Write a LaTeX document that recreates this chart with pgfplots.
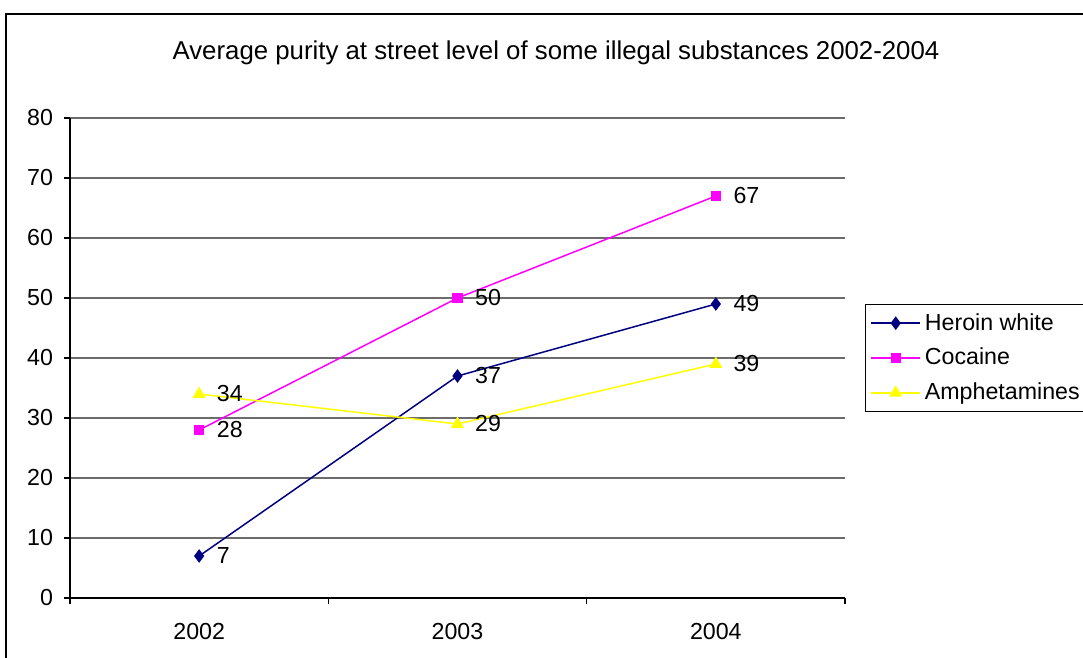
\documentclass[border=0pt]{standalone}
\usepackage{pgfplots}
\pgfplotsset{compat=1.18}
\usepackage{fontspec}
\setmainfont{Liberation Sans}
\definecolor{heroin}{RGB}{0,0,128}
\definecolor{cocaine}{RGB}{255,0,255}
\definecolor{amph}{RGB}{255,255,0}
\begin{document}
\begin{tikzpicture}[font=\fontsize{11.6}{13.9}\selectfont]
\clip (0,0) rectangle (541.5pt,329pt);
\fill[white] (0,0) rectangle (541.5pt,329pt);
\draw[line width=1.1pt] (3pt,-10pt) rectangle (560pt,322pt);
\node[font=\fontsize{12.9}{15.5}\selectfont] at (278pt,302.5pt) {Average purity at street level of some illegal substances 2002-2004};
\begin{axis}[
  at={(35pt,30pt)}, anchor=south west,
  scale only axis, width=387.5pt, height=240pt,
  /pgf/number format/assume math mode=true,
  xmin=-0.5, xmax=2.5, ymin=0, ymax=80,
  ytick={0,10,...,80},
  xtick={-0.5,0.5,1.5,2.5}, xticklabels={},
  extra x ticks={0,1,2}, extra x tick labels={2002,2003,2004},
  extra x tick style={major tick length=0pt, xticklabel style={yshift=-9pt}},
  axis x line*=bottom, axis y line*=left,
  axis line style={black, line width=0.6pt},
  tick align=outside, major tick length=3pt,
  tick style={black, line width=0.6pt},
  yticklabel style={xshift=-2pt},
  ymajorgrids, grid style={gray!85!black, line width=0.6pt},
  every axis plot/.append style={line width=0.75pt},
  legend style={at={(1,0.5)}, anchor=west, xshift=10pt, draw=black, line width=0.5pt,
    font=\fontsize{11.6}{13.9}\selectfont, row sep=3.5pt, inner sep=2.5pt},
  legend cell align=left,
  legend image code/.code={\draw[mark repeat=2,mark phase=2,#1] plot coordinates {(0cm,0cm) (0.43cm,0cm) (0.86cm,0cm)};},
  nodes near coords,
  every node near coord/.append style={anchor=west, inner sep=0pt, xshift=8.5pt, text=black, font=\fontsize{11.6}{13.9}\selectfont},
  clip=false,
]
\addplot[color=heroin, mark=diamond*, mark size=2.8pt, mark options={fill=heroin}] coordinates {(0,7) (1,37) (2,49)};
\addlegendentry{Heroin white}
\addplot[color=cocaine, mark=square*, mark size=2.2pt, mark options={fill=cocaine}] coordinates {(0,28) (1,50) (2,67)};
\addlegendentry{Cocaine}
\addplot[color=amph, mark=triangle*, mark size=3pt, mark options={fill=amph}] coordinates {(0,34) (1,29) (2,39)};
\addlegendentry{Amphetamines}
\end{axis}
\end{tikzpicture}
\end{document}
